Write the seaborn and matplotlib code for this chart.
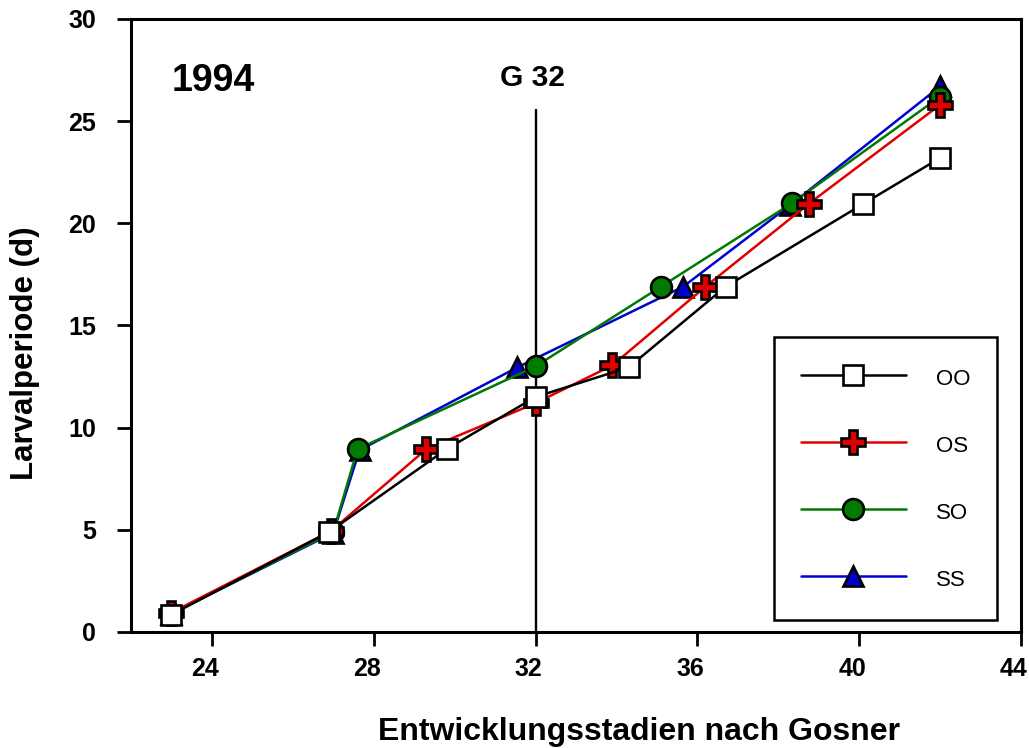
import matplotlib
matplotlib.use("Agg")
import matplotlib.pyplot as plt
import matplotlib.transforms as mtransforms
import seaborn as sns
import pandas as pd
from matplotlib.lines import Line2D

# Gosner stage (x) and larval period in days (y) for each treatment, 1994
oo_stage = [23.0, 26.9, 29.8, 32.0, 34.3, 36.7, 40.1, 42.0]
oo_days = [0.85, 4.9, 8.95, 11.5, 12.95, 16.9, 20.95, 23.2]

os_stage = [23.0, 26.95, 29.3, 32.0, 33.9, 36.2, 38.75, 42.0]
os_days = [0.95, 4.95, 8.95, 11.2, 13.05, 16.9, 20.95, 25.8]

so_stage = [23.0, 27.0, 27.6, 32.0, 35.1, 38.35, 42.0]
so_days = [0.9, 4.9, 8.95, 13.0, 16.9, 21.0, 26.2]

ss_stage = [23.0, 27.0, 27.65, 31.55, 35.65, 38.3, 42.0]
ss_days = [0.9, 4.85, 8.9, 12.95, 16.9, 20.9, 26.7]

labels = ["OO", "OS", "SO", "SS"]
x_ticks = [24, 28, 32, 36, 40, 44]
y_ticks = [0, 5, 10, 15, 20, 25, 30]

sns.set_style("white")
plt.rcParams["font.family"] = ["Liberation Sans", "DejaVu Sans"]
plt.rcParams["text.color"] = "black"
plt.rcParams["axes.labelcolor"] = "black"
plt.rcParams["xtick.color"] = "black"
plt.rcParams["ytick.color"] = "black"

fig = plt.figure(figsize=(10.29, 7.48), dpi=100)
ax = fig.add_axes([0.1273, 0.1551, 0.8649, 0.8195])

styles = {
    "OO": dict(color="black", marker="s", mfc="white", ms=15),
    "OS": dict(color="#e00000", marker="P", mfc="#e00000", ms=17),
    "SO": dict(color="#007a00", marker="o", mfc="#007a00", ms=15),
    "SS": dict(color="#0000d0", marker="^", mfc="#0000d0", ms=15),
}
series = {
    "OO": (oo_stage, oo_days),
    "OS": (os_stage, os_days),
    "SO": (so_stage, so_days),
    "SS": (ss_stage, ss_days),
}

# vertical reference line at stage G 32
ax.vlines(32, 0, 25.6, color="black", lw=1.7, zorder=1)

# draw back to front so OO sits on top
for name in ["SS", "SO", "OS", "OO"]:
    xs, ys = series[name]
    df = pd.DataFrame({"stage": xs, "days": ys})
    st = styles[name]
    sns.lineplot(data=df, x="stage", y="days", ax=ax, sort=False,
                 estimator=None, color=st["color"], lw=1.8,
                 marker=st["marker"], markersize=st["ms"],
                 markerfacecolor=st["mfc"], markeredgecolor="black",
                 markeredgewidth=1.9, zorder=3)

ax.set_xlim(22, 44)
ax.set_ylim(0, 30)
ax.set_xticks(x_ticks)
ax.set_yticks(y_ticks)
ax.tick_params(axis="both", which="major", direction="out", length=10,
               width=2, labelsize=18, bottom=True, left=True,
               top=False, right=False)
ax.tick_params(axis="x", pad=8)
ax.tick_params(axis="y", pad=15)
shift_left = mtransforms.ScaledTranslation(-7 / 100, 0, fig.dpi_scale_trans)
for lab in ax.get_xticklabels():
    lab.set_fontweight("bold")
    lab.set_transform(lab.get_transform() + shift_left)
for lab in ax.get_yticklabels():
    lab.set_fontweight("bold")
for sp in ax.spines.values():
    sp.set_linewidth(2.2)
    sp.set_color("black")

ax.set_xlabel("Entwicklungsstadien nach Gosner", fontsize=23, fontweight="bold")
ax.set_ylabel("Larvalperiode (d)", fontsize=22.5, fontweight="bold")
ax.xaxis.label.set_va("baseline")
ax.xaxis.set_label_coords(0.571, -0.176)
ax.yaxis.set_label_coords(-0.102, 0.455)

ax.text(23.0, 26.95, "1994", fontsize=27, fontweight="bold", ha="left", va="center")
ax.text(31.93, 27.1, "G 32", fontsize=21.5, fontweight="bold", ha="center", va="center")

handles = []
for name in labels:
    st = styles[name]
    handles.append(Line2D([0], [0], color=st["color"], lw=1.8, marker=st["marker"],
                          markersize=st["ms"], markerfacecolor=st["mfc"],
                          markeredgecolor="black", markeredgewidth=1.9))
leg = ax.legend(handles, labels, loc="lower right", bbox_to_anchor=(0.973, 0.0196),
                borderaxespad=0, frameon=True, fancybox=False, fontsize=16,
                handlelength=4.7, handleheight=1.6, handletextpad=1.36,
                labelspacing=1.73, borderpad=1.2, numpoints=1)
leg.get_frame().set_edgecolor("black")
leg.get_frame().set_linewidth(1.8)
leg.get_frame().set_alpha(1)

fig.savefig("out.png", dpi=100)
